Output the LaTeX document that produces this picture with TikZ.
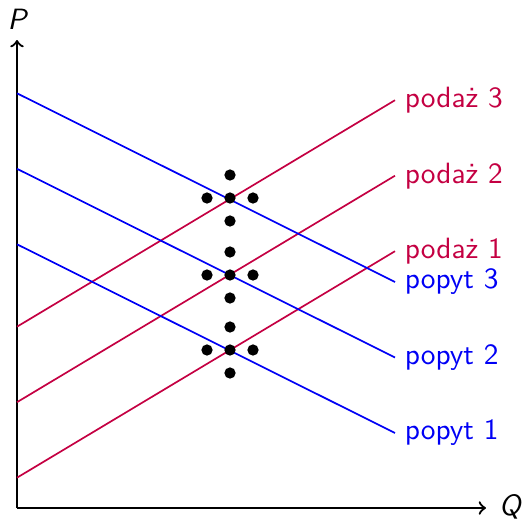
\documentclass[tikz,border=0pt]{standalone}
\usepackage{fontspec}
\definecolor{supplyc}{RGB}{196,0,66}
\definecolor{demandc}{RGB}{0,0,245}
\newcommand{\lblfont}{\fontsize{10.4}{12.5}\selectfont\sffamily}
\begin{document}
\begin{tikzpicture}[x=0.3546pt,y=-0.3546pt,
  axis/.style={thick,black},
  supply/.style={semithick,supplyc},
  demand/.style={semithick,demandc},
  slabel/.style={anchor=west,text=supplyc,font=\lblfont},
  dlabel/.style={anchor=west,text=demandc,font=\lblfont},
  dot/.style={circle,fill=black,inner sep=0pt,minimum size=4pt},
  axlabel/.style={font=\lblfont\itshape}]
\useasboundingbox (0,0) rectangle (521,521);
% axes
\coordinate (O) at (17,508);
\coordinate (Ptop) at (17,40);
\coordinate (Qend) at (486,508);
\draw[axis,->] (O) -- (Ptop);
\draw[axis,->] (O) -- (Qend);
\node[axlabel] (Plab) at (17,19) {P};
\node[axlabel] (Qlab) at (510,507) {Q};
% supply lines
\coordinate (s1a) at (17,477.7); \coordinate (s1b) at (395,251.2);
\coordinate (s2a) at (17,402.2); \coordinate (s2b) at (395,175.7);
\coordinate (s3a) at (17,326.7); \coordinate (s3b) at (395,100.2);
\draw[supply] (s1a) -- (s1b);
\draw[supply] (s2a) -- (s2b);
\draw[supply] (s3a) -- (s3b);
% demand lines
\coordinate (d1a) at (17,244.3); \coordinate (d1b) at (395,433.0);
\coordinate (d2a) at (17,168.8); \coordinate (d2b) at (395,357.5);
\coordinate (d3a) at (17,93.3); \coordinate (d3b) at (395,282.0);
\draw[demand] (d1a) -- (d1b);
\draw[demand] (d2a) -- (d2b);
\draw[demand] (d3a) -- (d3b);
% labels
\node[slabel] (ls3) at (s3b) {podaż 3};
\node[slabel] (ls2) at (s2b) {podaż 2};
\node[slabel] (ls1) at (s1b) {podaż 1};
\node[dlabel] (ld3) at (d3b) {popyt 3};
\node[dlabel] (ld2) at (d2b) {popyt 2};
\node[dlabel] (ld1) at (d1b) {popyt 1};
% dots
\foreach \k/\yy in {1/350,2/275,3/198}{
  \node[dot] (c\k) at (230,\yy) {};
  \node[dot] (n\k) at (230,\yy-23) {};
  \node[dot] (s\k) at (230,\yy+23) {};
  \node[dot] (w\k) at (207,\yy) {};
  \node[dot] (e\k) at (253,\yy) {};
}
\end{tikzpicture}
\end{document}
